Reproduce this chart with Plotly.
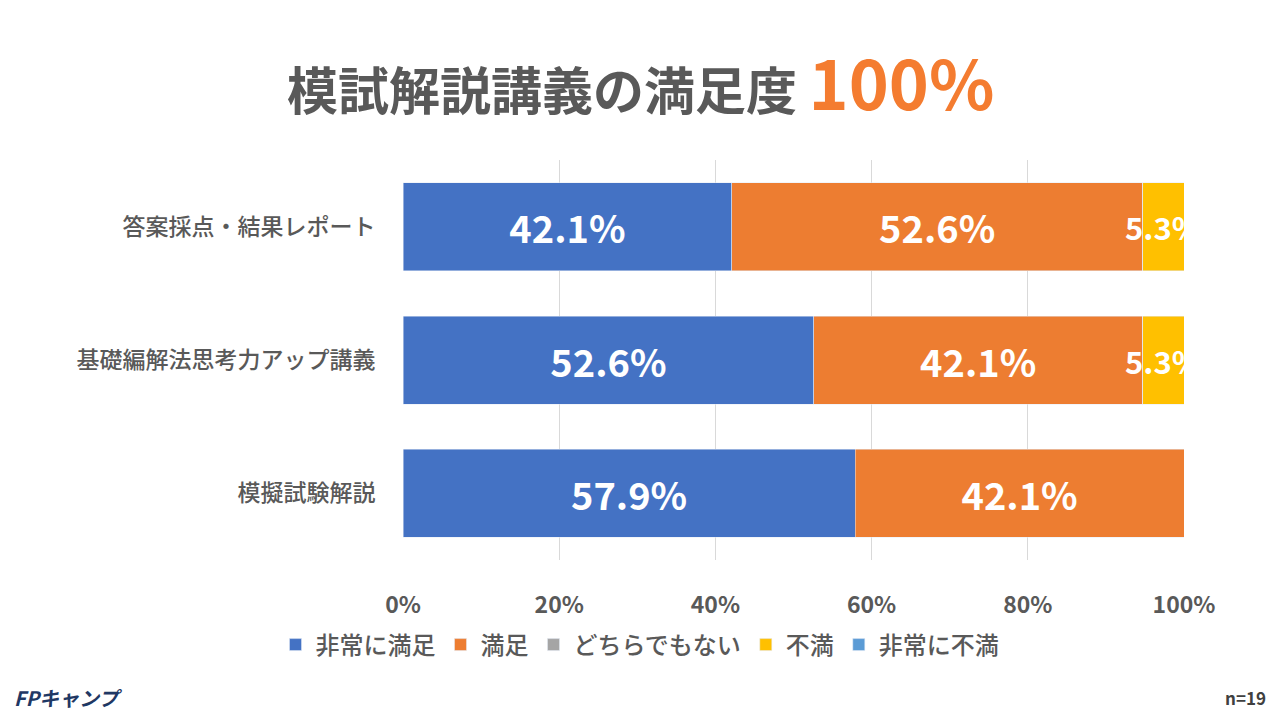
import plotly.graph_objects as go

categories = ["答案採点・結果レポート", "基礎編解法思考力アップ講義", "模擬試験解説"]
series_names = ["非常に満足", "満足", "どちらでもない", "不満", "非常に不満"]
values = [
    [42.1, 52.6, 57.9],
    [52.6, 42.1, 42.1],
    [0, 0, 0],
    [5.3, 5.3, 0],
    [0, 0, 0],
]
colors = ["#4472C4", "#ED7D31", "#A5A5A5", "#FFC000", "#5B9BD5"]
tick_vals = [0, 20, 40, 60, 80, 100]
tick_text = ["0%", "20%", "40%", "60%", "80%", "100%"]

FONT = "Noto Sans CJK JP"
OFF = 8  # page body margin
L, R, T, B = 403 - OFF, 1184 - OFF, 160 - OFF, 560 - OFF
pw, ph = R - L, B - T
def px(x): return (x - OFF - L) / pw
def py(y): return (B - (y - OFF)) / ph

fig = go.Figure()
for name, vals, c in zip(series_names, values, colors):
    fig.add_trace(go.Bar(
        y=categories, x=vals, name=name, orientation="h", marker_color=c,
        text=[f"{v}%" if v > 0 else "" for v in vals],
        textposition="inside", insidetextanchor="middle", textangle=0,
        constraintext="none",
        textfont=dict(color="white", size=38 if name != "不満" else 31, family=FONT, weight="bold"),
    ))

fig.update_layout(
    barmode="stack", bargap=0.34, width=1280, height=720,
    paper_bgcolor="white", plot_bgcolor="white",
    margin=dict(l=L, r=1280 - R, t=T, b=720 - B, autoexpand=False),
    font=dict(family=FONT, color="#595959"),
    xaxis=dict(range=[0, 100], tickvals=tick_vals, ticktext=tick_text, automargin=False,
               showgrid=True, gridcolor="#D9D9D9", zeroline=False,
               tickfont=dict(size=23, color="#595959", weight="bold"),
               ticks="outside", ticklen=24, tickcolor="white"),
    yaxis=dict(autorange="reversed", tickfont=dict(size=23, color="#595959", weight=500), automargin=False,
               ticks="outside", ticklen=22, tickcolor="white"),
    legend=dict(orientation="h", x=px(640), xanchor="center", y=py(645), yanchor="middle",
                font=dict(size=24, color="#595959", weight=500), traceorder="normal"),
    showlegend=True,
)
fig.add_annotation(x=px(640), y=py(80), xref="paper", yref="paper", xanchor="center", yanchor="middle",
                   showarrow=False,
                   text="<span style='font-size:51px;color:#595959'><b>模試解説講義の満足度 </b></span><span style='font-size:68px;color:#F47C30'><b>100%</b></span>")
fig.add_annotation(x=px(12), y=py(697), xref="paper", yref="paper", showarrow=False,
                   text="<b><i>FPキャンプ</i></b>", font=dict(size=20, color="#1F3864"),
                   xanchor="left", yanchor="middle")
fig.add_annotation(x=px(1268), y=py(697), xref="paper", yref="paper", showarrow=False, text="<b>n=19</b>",
                   font=dict(size=17, color="#404040"), xanchor="right", yanchor="middle")
fig.write_html("out.html")
